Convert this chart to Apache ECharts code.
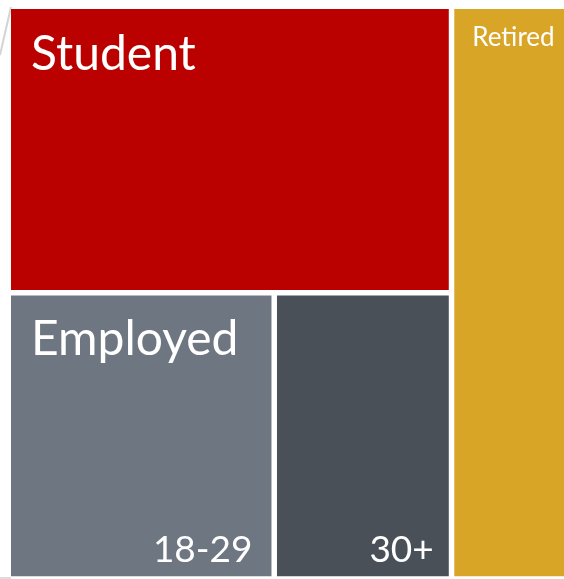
<!DOCTYPE html>
<html>
<head>
<meta charset="utf-8">
<script src="https://cdn.jsdelivr.net/npm/echarts@6/dist/echarts.min.js"></script>
<style>
html,body{margin:0;padding:0;background:#fff;}
#main{width:564px;height:579px;}
</style>
</head>
<body>
<div id="main"></div>
<script>
var groups = ['Student', 'Employed', 'Retired'];
var employedAges = ['18-29', '30+'];
var studentShare = 40;
var employedShares = [24, 16];
var retiredShare = 20.8;

var employedTotal = employedShares[0] + employedShares[1];
var leftTotal = studentShare + employedTotal;
var total = leftTotal + retiredShare;

// left column = student over employed, retired takes the rest on the right
var leftW = leftTotal / total;
var studentH = studentShare / leftTotal;
var age0W = leftW * employedShares[0] / employedTotal;

var cells = [
  [0, 0, leftW, studentH, 'student'],
  [0, studentH, age0W, 1, 'age0'],
  [age0W, studentH, leftW, 1, 'age1'],
  [leftW, 0, 1, 1, 'retired']
];

var colors = {student: '#BB0000', age0: '#6E7781', age1: '#4A5058', retired: '#D9A526'};
var gap = 2.75;
var font = 'Lato';

function txt(s, x, y, size, align) {
  return {
    type: 'text',
    style: {text: s, x: x, y: y, fill: '#fff', fontSize: size, fontFamily: font,
            align: align || 'left', verticalAlign: 'middle'}
  };
}

function renderItem(params, api) {
  var key = cells[params.dataIndex][4];
  var p0 = api.coord([api.value(0), api.value(1)]);
  var p1 = api.coord([api.value(2), api.value(3)]);
  var x = p0[0] + gap, y = p0[1] + gap;
  var w = p1[0] - p0[0] - 2 * gap, h = p1[1] - p0[1] - 2 * gap;
  var kids = [{type: 'rect', shape: {x: x, y: y, width: w, height: h}, style: {fill: colors[key]}}];
  if (key == 'student') kids.push(txt(groups[0], x + 20, y + 46, 48));
  if (key == 'age0') {
    kids.push(txt(groups[1], x + 20, y + 44, 48));
    kids.push(txt(employedAges[0], x + w - 19, y + h - 26, 37, 'right'));
  }
  if (key == 'age1') kids.push(txt(employedAges[1], x + w - 15, y + h - 26, 37, 'right'));
  if (key == 'retired') kids.push(txt(groups[2], x + 18, y + 29, 26));
  return {type: 'group', children: kids};
}

var myChart = echarts.init(document.getElementById('main'));
myChart.setOption({
  animation: false,
  grid: {left: 8.25, top: 6.25, right: 0, bottom: 0},
  xAxis: {type: 'value', min: 0, max: 0.995, show: false},
  yAxis: {type: 'value', min: 0, max: 1, inverse: true, show: false},
  graphic: [
    {type: 'line', shape: {x1: 11, y1: 7, x2: 0, y2: 55}, style: {stroke: '#d4d4d4', lineWidth: 2}},
    {type: 'line', shape: {x1: 0, y1: 578, x2: 11, y2: 578}, style: {stroke: '#dcdcdc', lineWidth: 2}}
  ],
  series: [{
    type: 'custom',
    renderItem: renderItem,
    encode: {x: [0, 2], y: [1, 3]},
    data: cells
  }]
});
</script>
</body>
</html>
